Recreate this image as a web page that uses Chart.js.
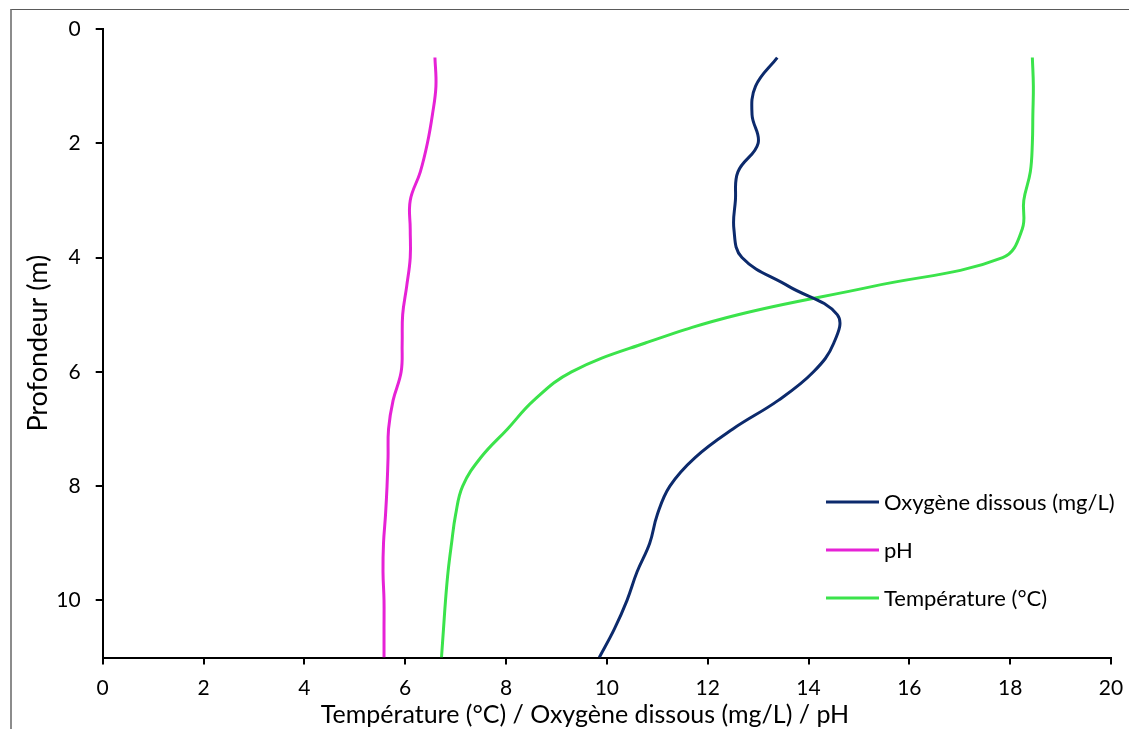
<!DOCTYPE html>
<html>
<head>
<meta charset="utf-8">
<script src="https://cdn.jsdelivr.net/npm/chart.js@4/dist/chart.umd.min.js"></script>
<style>
  html, body { margin: 0; padding: 0; background: #fff; overflow: hidden; }
  #wrap { position: absolute; left: 0; top: 0; width: 1129px; height: 729px; }
  #frame { position: absolute; left: 10px; top: 9px; width: 1400px; height: 1000px;
           border-left: 2px solid #8c8c8c; border-top: 1px solid #5a5a5a; pointer-events: none; }
</style>
</head>
<body>
<div id="wrap"><canvas id="c" width="1129" height="729"></canvas></div>
<div id="frame"></div>
<script>
// Depth (m) of each measurement
const depths = [0.5, 1.0, 1.5, 2.0, 2.5, 3.0, 3.5, 4.0, 4.5, 5.0, 5.5, 6.0, 6.5, 7.0, 7.5, 8.0, 8.5, 9.0, 9.5, 10.0, 10.5, 11.0];
// Dissolved oxygen (mg/L)
const oxygen = [13.38, 12.95, 12.88, 13.0, 12.6, 12.55, 12.52, 12.68, 13.6, 14.57, 14.5, 14.1, 13.4, 12.5, 11.75, 11.25, 11.0, 10.85, 10.6, 10.4, 10.15, 9.85];
// pH
const ph = [6.59, 6.61, 6.54, 6.44, 6.3, 6.1, 6.1, 6.1, 6.03, 5.95, 5.94, 5.92, 5.76, 5.67, 5.66, 5.64, 5.61, 5.57, 5.56, 5.58, 5.58, 5.58];
// Temperature (°C)
const temperature = [18.44, 18.46, 18.45, 18.44, 18.4, 18.27, 18.24, 17.85, 15.3, 12.6, 10.75, 9.3, 8.55, 8.03, 7.5, 7.14, 7.0, 6.92, 6.85, 6.8, 6.76, 6.72];

const seriesNames = ['Oxygène dissous (mg/L)', 'pH', 'Température (°C)'];
const seriesColors = ['#0c2a6c', '#e622d6', '#3be34b'];
const xTitle = 'Température (°C) / Oxygène dissous (mg/L) / pH';
const yTitle = 'Profondeur (m)';

const FONT = 'Lato, "Open Sans", sans-serif';

function toPoints(values) {
  return values.map((v, i) => ({ x: v, y: depths[i] }));
}

const seriesValues = [oxygen, ph, temperature];
const datasets = seriesValues.map((vals, i) => ({
  label: seriesNames[i],
  data: toPoints(vals),
  borderColor: seriesColors[i],
  backgroundColor: seriesColors[i],
  borderWidth: 3,
  showLine: true,
  pointRadius: 0,
  pointHoverRadius: 0,
  tension: 0.4,
  fill: false
}));

const legendPlugin = {
  id: 'insideLegend',
  afterDraw(chart) {
    const ctx = chart.ctx;
    ctx.save();
    ctx.font = '22px ' + FONT;
    ctx.textBaseline = 'middle';
    ctx.textAlign = 'left';
    const x0 = 826, x1 = 879, tx = 884;
    const rows = [502, 550, 598];
    chart.data.datasets.forEach((ds, i) => {
      const y = rows[i];
      ctx.strokeStyle = ds.borderColor;
      ctx.lineWidth = 3;
      ctx.beginPath();
      ctx.moveTo(x0, y);
      ctx.lineTo(x1, y);
      ctx.stroke();
      ctx.fillStyle = '#000';
      ctx.fillText(ds.label, tx, y + 1);
    });
    // x axis title
    ctx.textAlign = 'center';
    ctx.font = '25px ' + FONT;
    ctx.fillText(xTitle, 585, 715);
    ctx.restore();
  }
};

new Chart(document.getElementById('c'), {
  type: 'scatter',
  data: { datasets },
  plugins: [legendPlugin],
  options: {
    responsive: false,
    animation: false,
    events: [],
    layout: { padding: { top: 29, right: 0, left: 0, bottom: 0 } },
    plugins: { legend: { display: false }, tooltip: { enabled: false } },
    scales: {
      x: {
        type: 'linear',
        position: 'bottom',
        min: 0, max: 20,
        ticks: { stepSize: 2, color: '#000', font: { family: FONT, size: 21 }, padding: 11, maxRotation: 0 },
        grid: { display: true, drawOnChartArea: false, drawTicks: true, tickLength: 7, color: '#000', lineWidth: 2 },
        border: { display: true, color: '#000', width: 2 },
        title: { display: false },
        afterFit(scale) { scale.height = 71.5; scale.paddingRight = 18; }
      },
      y: {
        type: 'linear',
        position: 'left',
        reverse: true,
        min: 0, max: 11,
        ticks: { stepSize: 2, includeBounds: false, color: '#000', font: { family: FONT, size: 21 }, padding: 15 },
        grid: { display: true, drawOnChartArea: false, drawTicks: true, tickLength: 7, color: '#000', lineWidth: 2 },
        border: { display: true, color: '#000', width: 2 },
        title: { display: true, text: yTitle, color: '#000', font: { family: FONT, size: 27 }, padding: { top: 22, bottom: 0 } },
        afterFit(scale) { scale.width = 102.7; }
      }
    }
  }
});
</script>
</body>
</html>
